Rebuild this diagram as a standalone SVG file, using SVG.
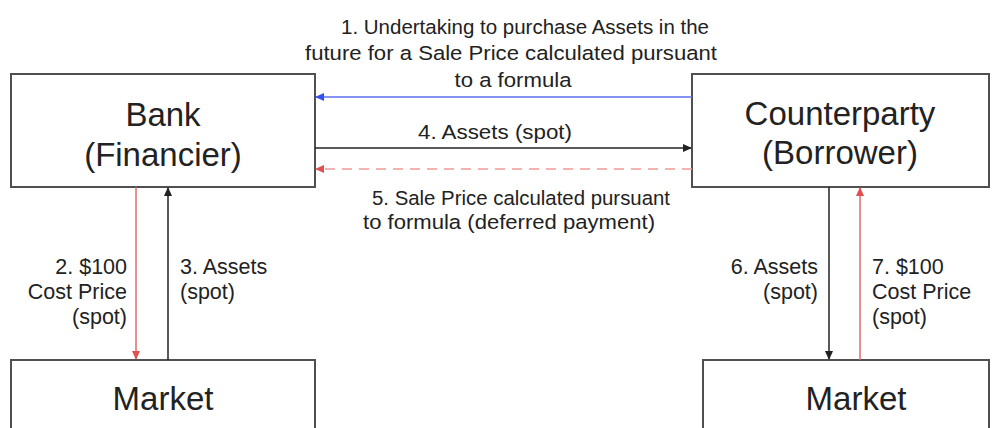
<svg xmlns="http://www.w3.org/2000/svg" width="993" height="428" viewBox="0 0 993 428">
<style>
.box{fill:#fff;stroke:#505050;stroke-width:2}
.t{font-family:"Liberation Sans",Arial,sans-serif;fill:#222}
.big{font-size:33px;text-anchor:middle}
.lbl{font-size:20.5px}
.side{font-size:21.5px}
.mid{text-anchor:middle}
.end{text-anchor:end}
.blk{stroke:#222;stroke-width:1.5;fill:none}
.red{stroke:#e06a6a;stroke-width:1.5;fill:none}
.blue{stroke:#5b6ff0;stroke-width:1.5;fill:none}
</style>
<defs>
<marker id="ab" markerWidth="10" markerHeight="10" refX="8" refY="5" orient="auto" markerUnits="userSpaceOnUse"><path d="M0,1 L9,5 L0,9 z" fill="#222"/></marker>
<marker id="ar" markerWidth="10" markerHeight="10" refX="8" refY="5" orient="auto" markerUnits="userSpaceOnUse"><path d="M0,1 L9,5 L0,9 z" fill="#e05050"/></marker>
<marker id="au" markerWidth="10" markerHeight="10" refX="8" refY="5" orient="auto" markerUnits="userSpaceOnUse"><path d="M0,1 L9,5 L0,9 z" fill="#3550f0"/></marker>
</defs>
<rect width="993" height="428" fill="#fff"/>
<g id="bank">
<rect class="box" x="11" y="74" width="304" height="113"/>
<text class="t big" x="163" y="126">Bank</text>
<text class="t big" x="163" y="166">(Financier)</text>
</g>
<g id="counterparty">
<rect class="box" x="692" y="74" width="297" height="113"/>
<text class="t big" x="840" y="125">Counterparty</text>
<text class="t big" x="840" y="164">(Borrower)</text>
</g>
<g id="market-left">
<rect class="box" x="11" y="360" width="304" height="80"/>
<text class="t big" x="163" y="410">Market</text>
</g>
<g id="market-right">
<rect class="box" x="703" y="360" width="286" height="80"/>
<text class="t big" x="856" y="410">Market</text>
</g>
<g id="connectors">
<line class="blue" x1="692" y1="97" x2="316" y2="97" marker-end="url(#au)"/>
<line class="blk" x1="315" y1="148" x2="691" y2="148" marker-end="url(#ab)"/>
<line class="red" x1="692" y1="169" x2="316" y2="169" stroke="#f09a9a" style="stroke:#f09a9a" stroke-dasharray="10,7" marker-end="url(#ar)"/>
<line class="red" x1="136" y1="187" x2="136" y2="359" marker-end="url(#ar)"/>
<line class="blk" x1="168" y1="360" x2="168" y2="188" marker-end="url(#ab)"/>
<line class="blk" x1="829" y1="187" x2="829" y2="359" marker-end="url(#ab)"/>
<line class="red" x1="860" y1="360" x2="860" y2="188" marker-end="url(#ar)"/>
<text class="t lbl mid" x="525" y="34" textLength="368" lengthAdjust="spacingAndGlyphs">1. Undertaking to purchase Assets in the</text>
<text class="t lbl mid" x="511" y="60" textLength="412" lengthAdjust="spacingAndGlyphs">future for a Sale Price calculated pursuant</text>
<text class="t lbl mid" x="513" y="87" textLength="117" lengthAdjust="spacingAndGlyphs">to a formula</text>
<text class="t lbl mid" x="495" y="139" textLength="154" lengthAdjust="spacingAndGlyphs">4. Assets (spot)</text>
<text class="t lbl mid" x="521" y="205" textLength="298" lengthAdjust="spacingAndGlyphs">5. Sale Price calculated pursuant</text>
<text class="t lbl mid" x="509" y="229" textLength="292" lengthAdjust="spacingAndGlyphs">to formula (deferred payment)</text>
<text class="t side end" x="127" y="274">2. $100</text>
<text class="t side end" x="127" y="299">Cost Price</text>
<text class="t side end" x="127" y="324">(spot)</text>
<text class="t side" x="180" y="274">3. Assets</text>
<text class="t side" x="180" y="299">(spot)</text>
<text class="t side end" x="818" y="274">6. Assets</text>
<text class="t side end" x="818" y="299">(spot)</text>
<text class="t side" x="872" y="274">7. $100</text>
<text class="t side" x="872" y="299">Cost Price</text>
<text class="t side" x="872" y="324">(spot)</text>
</g>
</svg>
